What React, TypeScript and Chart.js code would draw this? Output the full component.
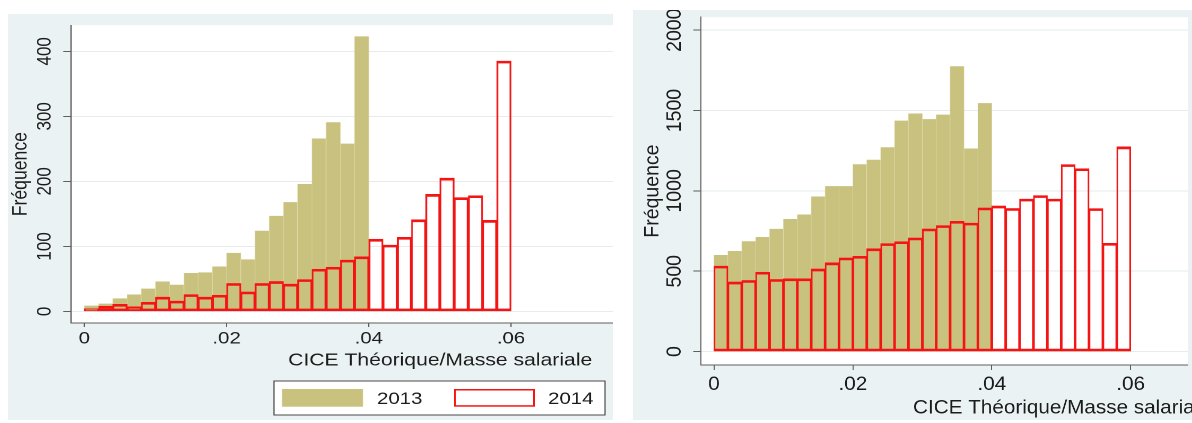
import React, { useEffect, useRef } from 'react';
import { Chart, registerables } from 'chart.js';

Chart.register(...registerables);

// ---------------- data ----------------
const seriesNames = ['2013', '2014'];
const binWidth = 0.002;

const leftFreq2013 = [9, 12, 20, 26, 35, 46, 41, 59, 60, 69, 90, 80, 124, 147, 168, 196, 266, 291, 258, 423];
const leftFreq2014 = [4, 8, 11, 7, 14, 22, 16, 26, 22, 25, 43, 30, 43, 46, 42, 49, 65, 68, 79, 84, 111, 102, 114, 141, 180, 205, 175, 178, 140, 385];

const rightFreq2013 = [601, 626, 687, 713, 764, 825, 853, 965, 1030, 1030, 1166, 1194, 1272, 1437, 1482, 1447, 1475, 1776, 1264, 1546];
const rightFreq2014 = [532, 433, 443, 494, 449, 453, 453, 514, 552, 583, 593, 640, 672, 684, 707, 763, 784, 811, 800, 894, 906, 891, 949, 971, 949, 1164, 1138, 890, 674, 1274];

const xTickValues = [0, 0.02, 0.04, 0.06];
const xTickLabels = ['0', '.02', '.04', '.06'];
const leftYTicks = [0, 100, 200, 300, 400];
const rightYTicks = [0, 500, 1000, 1500, 2000];

const yAxisTitle = 'Fréquence';
const xAxisTitle = 'CICE Théorique/Masse salariale';

// ---------------- styles ----------------
const FONT = '"Liberation Sans", Arial, sans-serif';
const PANEL_BG = '#eaf2f3';
const OLIVE = '#c9c27f';
const OLIVE_EDGE = '#e2ddb0';
const RED = '#f41414';
const TEXT = '#1c1c1c';
const AXIS = '#5f5f5f';
const GRID = '#e6ebed';

const binCenters = (n: number) => Array.from({ length: n }, (_, i) => (i + 0.5) * binWidth);
const toPoints = (vals: number[]) => {
  const c = binCenters(vals.length);
  return vals.map((y, i) => ({ x: c[i], y }));
};

type PanelCfg = {
  pageLeft: number; pageTop: number; cssW: number; cssH: number; innerW: number;
  f2013: number[]; f2014: number[];
  xMin: number; xMax: number; yMin: number; yMax: number; yTicks: number[];
  yScaleW: number; xScaleH: number; padRight: number;
  xTickLen: number; yTickLen: number; xTickPad: number; yTickPad: number;
  tickFont: number; titleFont: number; yTitlePad: number;
  xTitleX: number; xTitleY: number; xTitleAlign: CanvasTextAlign;
  legend?: {
    box: [number, number, number, number];
    sw1: [number, number, number, number];
    sw2: [number, number, number, number];
    t1x: number; t2x: number; ty: number; font: number;
  };
};

const leftCfg: PanelCfg = {
  pageLeft: 8, pageTop: 14, cssW: 605, cssH: 406, innerW: 504,
  f2013: leftFreq2013, f2014: leftFreq2014,
  xMin: -0.001885, xMax: 0.07435, yMin: -17.8, yMax: 440, yTicks: leftYTicks,
  yScaleW: 52.5, xScaleH: 97, padRight: 0,
  xTickLen: 4, yTickLen: 6.4, xTickPad: 1.5, yTickPad: 1.1,
  tickFont: 17, titleFont: 17.6, yTitlePad: 0,
  xTitleX: 360, xTitleY: 351.7, xTitleAlign: 'center',
  legend: {
    box: [221.6, 367, 497.3, 401],
    sw1: [228.3, 375, 295.7, 392.7],
    sw2: [371.5, 375, 439, 392.7],
    t1x: 307.4, t2x: 449.9, ty: 390, font: 17,
  },
};

const rightCfg: PanelCfg = {
  pageLeft: 633, pageTop: 10, cssW: 559, cssH: 410, innerW: 527,
  f2013: rightFreq2013, f2014: rightFreq2014,
  xMin: -0.001872, xMax: 0.06825, yMin: -83.5, yMax: 2081, yTicks: rightYTicks,
  yScaleW: 64.1, xScaleH: 55, padRight: 3.8,
  xTickLen: 5, yTickLen: 7.3, xTickPad: 2.8, yTickPad: -4.5,
  tickFont: 19.5, titleFont: 19.5, yTitlePad: 6.7,
  xTitleX: 264, xTitleY: 403.3, xTitleAlign: 'left',
};

function makeConfig(p: PanelCfg): any {
  const decor = {
    id: 'panelDecor',
    beforeDraw(chart: any) {
      const { ctx, chartArea: a } = chart;
      ctx.save();
      ctx.fillStyle = '#ffffff';
      ctx.fillRect(a.left, a.top, a.right - a.left, a.bottom - a.top);
      ctx.restore();
    },
    afterDraw(chart: any) {
      const ctx = chart.ctx as CanvasRenderingContext2D;
      ctx.save();
      ctx.fillStyle = TEXT;
      ctx.font = `${p.titleFont}px ${FONT}`;
      ctx.textAlign = p.xTitleAlign;
      ctx.textBaseline = 'alphabetic';
      ctx.fillText(xAxisTitle, p.xTitleX, p.xTitleY);
      if (p.legend) {
        const L = p.legend;
        const ds = chart.data.datasets;
        ctx.fillStyle = '#ffffff';
        ctx.fillRect(L.box[0], L.box[1], L.box[2] - L.box[0], L.box[3] - L.box[1]);
        ctx.strokeStyle = '#4a4a4a';
        ctx.lineWidth = 1;
        ctx.strokeRect(L.box[0], L.box[1], L.box[2] - L.box[0], L.box[3] - L.box[1]);
        ctx.fillStyle = ds[0].backgroundColor;
        ctx.fillRect(L.sw1[0], L.sw1[1], L.sw1[2] - L.sw1[0], L.sw1[3] - L.sw1[1]);
        ctx.fillStyle = '#ffffff';
        ctx.fillRect(L.sw2[0], L.sw2[1], L.sw2[2] - L.sw2[0], L.sw2[3] - L.sw2[1]);
        ctx.strokeStyle = ds[1].borderColor;
        ctx.lineWidth = 1.5;
        ctx.strokeRect(L.sw2[0] + 0.75, L.sw2[1] + 0.75, L.sw2[2] - L.sw2[0] - 1.5, L.sw2[3] - L.sw2[1] - 1.5);
        ctx.fillStyle = TEXT;
        ctx.font = `${L.font}px ${FONT}`;
        ctx.textAlign = 'left';
        ctx.textBaseline = 'alphabetic';
        ctx.fillText(ds[0].label, L.t1x, L.ty);
        ctx.fillText(ds[1].label, L.t2x, L.ty);
      }
      ctx.restore();
    },
  };

  return {
    type: 'bar',
    data: {
      datasets: [
        {
          label: seriesNames[0],
          data: toPoints(p.f2013),
          backgroundColor: OLIVE,
          borderColor: OLIVE_EDGE,
          borderWidth: { left: 0.5, right: 0.5, top: 0, bottom: 0 },
          borderSkipped: false,
          grouped: false,
          order: 2,
          barPercentage: 1,
          categoryPercentage: 1,
        },
        {
          label: seriesNames[1],
          data: toPoints(p.f2014),
          backgroundColor: 'rgba(255,255,255,0)',
          borderColor: RED,
          borderWidth: { left: 0.9, right: 0.9, top: 2, bottom: 2 },
          borderSkipped: false,
          grouped: false,
          order: 1,
          barPercentage: 1,
          categoryPercentage: 1,
        },
      ],
    },
    options: {
      responsive: false,
      maintainAspectRatio: false,
      animation: false,
      devicePixelRatio: 2,
      layout: { padding: { left: 0, right: p.padRight, top: 0, bottom: 0 } },
      plugins: {
        legend: { display: false },
        tooltip: { enabled: false },
        title: { display: false },
      },
      scales: {
        x: {
          type: 'linear',
          min: p.xMin,
          max: p.xMax,
          offset: false,
          afterBuildTicks: (s: any) => { s.ticks = xTickValues.map((value) => ({ value })); },
          afterFit: (s: any) => { s.height = p.xScaleH; },
          ticks: {
            autoSkip: false,
            maxRotation: 0,
            minRotation: 0,
            padding: p.xTickPad,
            color: TEXT,
            font: { family: FONT, size: p.tickFont },
            callback: (_v: any, i: number) => xTickLabels[i],
          },
          grid: {
            offset: false,
            drawOnChartArea: false,
            drawTicks: true,
            tickLength: p.xTickLen,
            tickColor: AXIS,
            tickWidth: 1,
          },
          border: { display: true, color: AXIS, width: 1 },
        },
        y: {
          type: 'linear',
          min: p.yMin,
          max: p.yMax,
          afterBuildTicks: (s: any) => { s.ticks = p.yTicks.map((value) => ({ value })); },
          afterFit: (s: any) => { s.width = p.yScaleW; },
          ticks: {
            minRotation: 90,
            maxRotation: 90,
            crossAlign: 'center',
            padding: p.yTickPad,
            color: TEXT,
            font: { family: FONT, size: p.tickFont },
            callback: (v: any) => String(v),
          },
          grid: {
            offset: false,
            color: GRID,
            lineWidth: 1,
            drawTicks: true,
            tickLength: p.yTickLen,
            tickColor: AXIS,
            tickWidth: 1,
          },
          border: { display: true, color: AXIS, width: 1 },
          title: {
            display: true,
            text: yAxisTitle,
            color: TEXT,
            font: { family: FONT, size: p.titleFont },
            padding: { top: p.yTitlePad, bottom: 0 },
          },
        },
      },
    },
    plugins: [decor],
  };
}

function Panel({ cfg }: { cfg: PanelCfg }) {
  const ref = useRef<HTMLCanvasElement | null>(null);
  useEffect(() => {
    if (!ref.current) return;
    const chart = new Chart(ref.current, makeConfig(cfg));
    return () => chart.destroy();
  }, [cfg]);
  return (
    <div
      style={{
        position: 'absolute',
        left: cfg.pageLeft,
        top: cfg.pageTop,
        width: cfg.cssW,
        height: cfg.cssH,
        background: PANEL_BG,
        overflow: 'hidden',
      }}
    >
      <canvas
        ref={ref}
        width={cfg.innerW}
        height={cfg.cssH}
        style={{ width: `${cfg.cssW}px`, height: `${cfg.cssH}px`, display: 'block' }}
      />
    </div>
  );
}

export default function App() {
  return (
    <div
      style={{
        position: 'fixed',
        left: 0,
        top: 0,
        width: 1192,
        height: 423,
        background: '#ffffff',
        overflow: 'hidden',
      }}
    >
      <Panel cfg={leftCfg} />
      <Panel cfg={rightCfg} />
    </div>
  );
}
